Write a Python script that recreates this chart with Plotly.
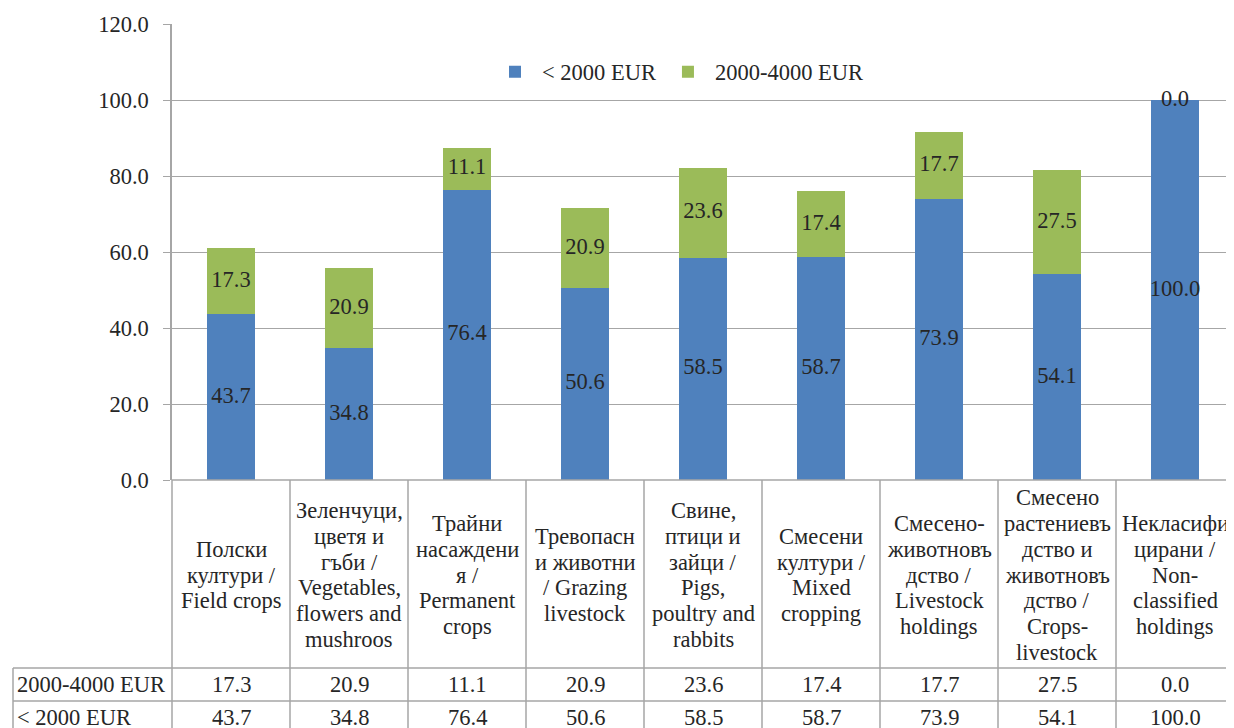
import plotly.graph_objects as go

# ---------------- data ----------------
categories = [
    "Полски<br>култури /<br>Field crops",
    "Зеленчуци,<br>цветя и<br>гъби /<br>Vegetables,<br>flowers and<br>mushroos",
    "Трайни<br>насаждени<br>я /<br>Permanent<br>crops",
    "Тревопасн<br>и животни<br>/ Grazing<br>livestock",
    "Свине,<br>птици и<br>зайци /<br>Pigs,<br>poultry and<br>rabbits",
    "Смесени<br>култури /<br>Mixed<br>cropping",
    "Смесено-<br>животновъ<br>дство /<br>Livestock<br>holdings",
    "Смесено<br>растениевъ<br>дство и<br>животновъ<br>дство /<br>Crops-<br>livestock",
    "Некласифи<br>цирани /<br>Non-<br>classified<br>holdings",
]
below_2000 = [43.7, 34.8, 76.4, 50.6, 58.5, 58.7, 73.9, 54.1, 100.0]
from_2000_to_4000 = [17.3, 20.9, 11.1, 20.9, 23.6, 17.4, 17.7, 27.5, 0.0]
series_names = ["< 2000 EUR", "2000-4000 EUR"]
y_ticks = [0, 20, 40, 60, 80, 100, 120]

# ---------------- styles ----------------
OFF = 8                      # page body margin
W, H = 1234 - OFF, 728 - OFF
L, R, T = 172 - OFF, 0, 24 - OFF
PW, PH = W - L - R, 456
B = H - T - PH
FONT = "Liberation Serif"
FS = 22.5
LH = 25.8                    # header line spacing (px)
TXT = "#262626"
GRID = "#A6A6A6"
BLUE = "#4F81BD"
GREEN = "#9BBB59"

def fnt():
    return dict(family=FONT, size=FS, color=TXT)

def ypap(pix):
    return (T + PH - (pix - OFF)) / PH

def xpap(pix):
    return (pix - OFF - L) / PW

n = len(categories)
xs = list(range(n))

fig = go.Figure()
fig.add_trace(go.Bar(x=xs, y=below_2000, name=series_names[0], marker_color=BLUE,
                     width=0.4, marker_line_width=0))
fig.add_trace(go.Bar(x=xs, y=from_2000_to_4000, name=series_names[1], marker_color=GREEN,
                     width=0.4, marker_line_width=0))

# data labels at segment middles
lab_x, lab_y, lab_t = [], [], []
for i in xs:
    lab_x.append(i); lab_y.append(below_2000[i] / 2); lab_t.append(f"{below_2000[i]:.1f}")
    lab_x.append(i); lab_y.append(below_2000[i] + from_2000_to_4000[i] / 2)
    lab_t.append(f"{from_2000_to_4000[i]:.1f}")
fig.add_trace(go.Scatter(x=lab_x, y=lab_y, text=lab_t, mode="text", showlegend=False,
                         textfont=fnt(), hoverinfo="skip", cliponaxis=False))

# ---------------- data table ----------------
header_top, header_bot, row1_bot, row2_bot = 480, 668, 701, 734
table_left = 13
shapes = []
line = dict(color=GRID, width=1.5)
shapes.append(dict(type="line", xref="paper", yref="paper", x0=0, x1=1,
                   y0=ypap(header_top), y1=ypap(header_top), line=line))
for yy in (header_bot, row1_bot, row2_bot):
    shapes.append(dict(type="line", xref="paper", yref="paper", x0=xpap(table_left), x1=1,
                       y0=ypap(yy), y1=ypap(yy), line=line))
for k in range(n + 1):
    shapes.append(dict(type="line", xref="paper", yref="paper", x0=k / n, x1=k / n,
                       y0=ypap(header_top), y1=ypap(row2_bot), line=line))
shapes.append(dict(type="line", xref="paper", yref="paper", x0=xpap(table_left), x1=xpap(table_left),
                   y0=ypap(header_bot), y1=ypap(row2_bot), line=line))

hdr_mid = (header_top + header_bot) / 2 + 1
r1_c = ypap((header_bot + row1_bot) / 2)
r2_c = ypap((row1_bot + row2_bot) / 2)

fig.update_layout(
    width=W, height=H,
    margin=dict(l=L, r=R, t=T, b=B, pad=0),
    barmode="stack",
    plot_bgcolor="white", paper_bgcolor="white",
    font=fnt(),
    showlegend=True,
    legend=dict(orientation="h", x=xpap(488), y=ypap(72), xanchor="left", yanchor="middle",
                font=fnt(), bgcolor="rgba(0,0,0,0)", traceorder="normal", itemwidth=44),
    xaxis=dict(range=[-0.5, n - 0.5], showticklabels=False, showgrid=False, zeroline=False,
               ticks="", showline=False, fixedrange=True),
    yaxis=dict(range=[0, 120], tickvals=y_ticks, tickformat=".1f", showgrid=True,
               gridcolor=GRID, gridwidth=1, zeroline=False, showline=True, linecolor=GRID,
               linewidth=1.5, ticks="outside", ticklen=7, tickcolor=GRID, tickwidth=1,
               ticklabelstandoff=10, fixedrange=True, tickfont=fnt()),
    shapes=shapes,
)

for i in xs:
    lines = categories[i].split("<br>")
    m = len(lines)
    for k, txt in enumerate(lines):
        fig.add_annotation(x=i, y=ypap(hdr_mid + (k - (m - 1) / 2) * LH), xref="x", yref="paper",
                           text=txt, showarrow=False, yanchor="middle", font=fnt())
    fig.add_annotation(x=i, y=r1_c, xref="x", yref="paper", text=f"{from_2000_to_4000[i]:.1f}",
                       showarrow=False, yanchor="middle", font=fnt())
    fig.add_annotation(x=i, y=r2_c, xref="x", yref="paper", text=f"{below_2000[i]:.1f}",
                       showarrow=False, yanchor="middle", font=fnt())
for name, yc in ((series_names[1], r1_c), (series_names[0], r2_c)):
    fig.add_annotation(x=xpap(table_left + 2), y=yc, xref="paper", yref="paper", text=name,
                       showarrow=False, xanchor="left", yanchor="middle", font=fnt())

fig.write_html("out.html")
